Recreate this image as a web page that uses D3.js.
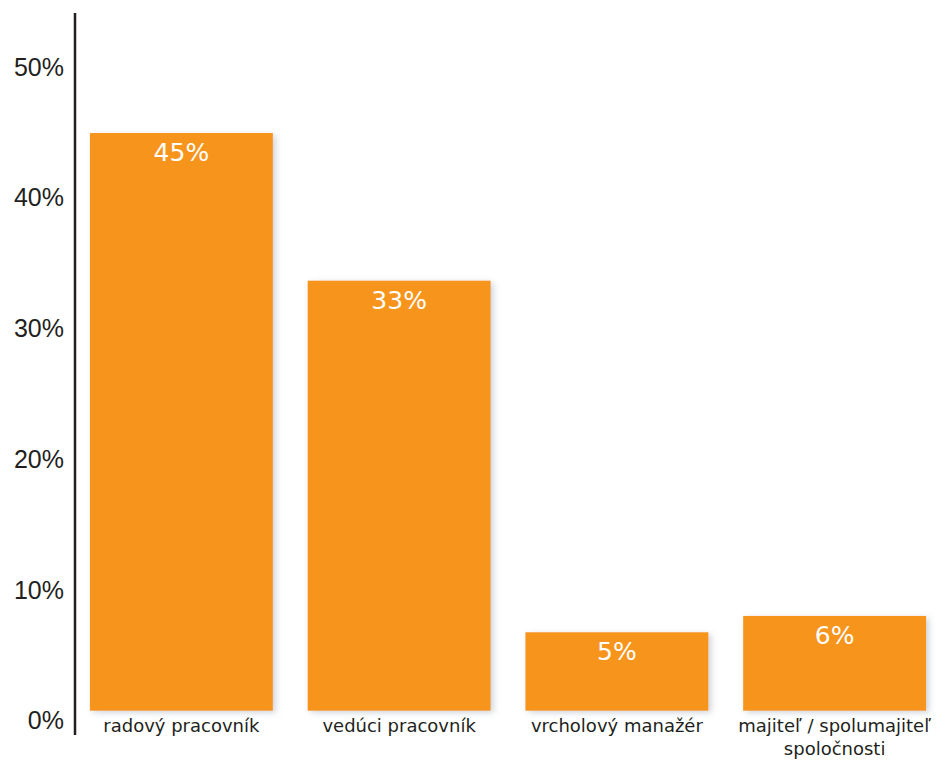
<!DOCTYPE html>
<html>
<head>
<meta charset="utf-8">
<script src="https://cdn.jsdelivr.net/npm/d3@7"></script>
<style>
  body { margin: 0; background: #fff; }
  svg { display: block; font-family: "DejaVu Sans", Verdana, sans-serif; }
</style>
</head>
<body>
<svg width="941" height="762"></svg>
<script>
const categories = [
  ["radový pracovník"],
  ["vedúci pracovník"],
  ["vrcholový manažér"],
  ["majiteľ / spolumajiteľ", "spoločnosti"]
]
// bar heights as drawn (percent)
const values = [44.2, 32.9, 6.0, 7.25]
// printed labels on the bars
const valueLabels = ["45%", "33%", "5%", "6%"]
const yTicks = [0, 10, 20, 30, 40, 50]

const svg = d3.select("svg")

const defs = svg.append("defs")
const shadow = defs.append("filter")
  .attr("id", "shadow")
  .attr("x", "-10%").attr("y", "-10%")
  .attr("width", "130%").attr("height", "130%")
shadow.append("feDropShadow")
  .attr("dx", 3)
  .attr("dy", 2)
  .attr("stdDeviation", 3)
  .attr("flood-color", "#7a8590")
  .attr("flood-opacity", 0.35)

const x = d3.scaleBand()
  .domain(d3.range(categories.length))
  .range([72.5, 943.5])
  .paddingInner(0.16)
  .paddingOuter(0.08)

const y = d3.scaleLinear()
  .domain([0, 50])
  .range([710.7, 57.2])

// bars
svg.selectAll(".bar")
  .data(values)
  .enter()
  .append("rect")
  .attr("class", "bar")
  .attr("x", (d, i) => x(i))
  .attr("y", d => y(d))
  .attr("width", x.bandwidth())
  .attr("height", d => y(0) - y(d))
  .attr("fill", "#f7941d")
  .attr("filter", "url(#shadow)")

// value labels
svg.selectAll(".valueLabel")
  .data(values)
  .enter()
  .append("text")
  .attr("class", "valueLabel")
  .attr("x", (d, i) => x(i) + x.bandwidth() / 2)
  .attr("y", d => y(d) + 28)
  .attr("text-anchor", "middle")
  .attr("fill", "#fff")
  .style("font-size", "25px")
  .text((d, i) => valueLabels[i])

// y axis
const yAxis = d3.axisLeft(y)
  .tickValues(yTicks)
  .tickSize(0)
  .tickPadding(11)
  .tickFormat(d => d + "%")

const yG = svg.append("g")
  .attr("transform", "translate(75,0)")
  .call(yAxis)
yG.select(".domain").remove()
yG.selectAll("text")
  .attr("y", 10)
  .attr("fill", "#231f20")
  .style("font-size", "25px")
  .style("font-family", "inherit")

svg.append("line")
  .attr("x1", 75).attr("x2", 75)
  .attr("y1", 13).attr("y2", 735)
  .attr("stroke", "#231f20")
  .attr("stroke-width", 2.5)

// category labels
const cats = svg.selectAll(".cat")
  .data(categories)
  .enter()
  .append("text")
  .attr("class", "cat")
  .attr("text-anchor", "middle")
  .attr("fill", "#231f20")
  .style("font-size", "18px")

cats.selectAll("tspan")
  .data((d, i) => d.map(line => ({ line, i })))
  .enter()
  .append("tspan")
  .attr("x", d => x(d.i) + x.bandwidth() / 2)
  .attr("y", (d, j) => 732 + j * 23)
  .text(d => d.line)
</script>
</body>
</html>
